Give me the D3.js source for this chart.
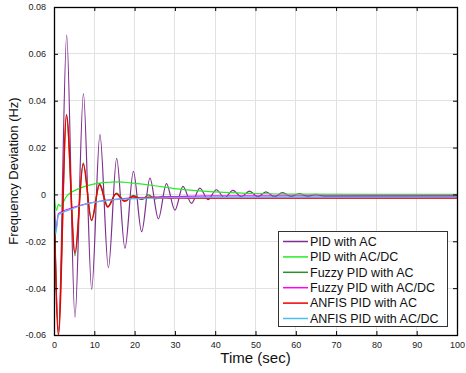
<!DOCTYPE html>
<html>
<head>
<meta charset="utf-8">
<script src="https://cdn.jsdelivr.net/npm/d3@7"></script>
<style>
  body { margin: 0; background: #fff; }
  svg { display: block; font-family: Arial, "Liberation Sans", sans-serif; }
</style>
</head>
<body>
<div id="chart"></div>
<script>
// series values [time (sec), deviation (Hz)]
const pidAC = [[0,0],[1.1,-0.058],[3.15,0.068],[5.2,-0.0524],[7.3,0.043],[9.35,-0.0405],[11.4,0.0255],
  [13.5,-0.0313],[15.55,0.0154],[17.6,-0.023],[19.7,0.0098],[21.75,-0.0159],[23.8,0.007],[25.9,-0.0104],
  [27.9,0.0046],[30.0,-0.0067],[32.0,0.0034],[34.1,-0.0038],[36.2,0.0027],[38.2,-0.0022],[40.3,0.002],
  [42.3,-0.0014],[44.4,0.0017],[46.5,-0.001],[48.5,0.0014],[50.6,-0.001],[52.6,0.0011],[54.7,-0.001],
  [56.7,0.0008],[58.8,-0.0009],[60.8,0.0004],[62.9,-0.0008],[64.9,0],[67,-0.0007],[100,-0.0006]];
const pidACDC = [[0,0],[0.6,-0.0068],[1.1,-0.0042],[1.6,-0.005],[3.1,-0.0008],[6.5,0.0027],[9.8,0.0044],
  [13.9,0.0052],[16,0.0054],[19,0.0049],[25,0.0037],[30.4,0.0024],[36,0.0015],[42,0.0009],[50,0.0004],
  [60,0.0001],[100,0]];
const fuzzyAC = [[0,0],[1.1,-0.0595],[3.1,0.0335],[5.2,-0.0262],[7.25,0.0135],[9.35,-0.0112],[11.3,0.0046],
  [13.4,-0.0052],[15.5,0.0006],[17.6,-0.0027],[19.7,-0.0004],[21.8,-0.0021],[23.4,-0.0002],[25.2,-0.0019],
  [26.8,-0.0008],[28.8,-0.0017],[30.6,-0.0011],[33,-0.0015],[100,-0.0015]];
const fuzzyACDC = [[0,0],[0.4,-0.0155],[1.1,-0.0082],[4,-0.006],[8,-0.004],[12,-0.0027],[16,-0.002],
  [20,-0.0015],[25,-0.0011],[30,-0.0009],[40,-0.0006],[100,-0.0006]];
const anfisAC = [[0,0],[1.1,-0.06],[3.1,0.034],[5.2,-0.025],[7.25,0.013],[9.3,-0.011],[11.3,0.0041],
  [13.3,-0.0054],[15.4,0.0003],[17.5,-0.0029],[19.6,-0.0009],[21.7,-0.0019],[23.8,-0.0012],[26,-0.0015],
  [100,-0.0015]];
const anfisACDC = [[0,0],[0.4,-0.017],[1.1,-0.0088],[4,-0.0065],[7.3,-0.0044],[11.4,-0.003],[14,-0.0024],
  [20,-0.0018],[30,-0.0014],[40,-0.0013],[100,-0.0012]];

const seriesNames = ['PID with AC', 'PID with AC/DC', 'Fuzzy PID with AC', 'Fuzzy PID with AC/DC',
  'ANFIS PID with AC', 'ANFIS PID with AC/DC'];
const seriesData = [pidAC, pidACDC, fuzzyAC, fuzzyACDC, anfisAC, anfisACDC];
const seriesColors = ['#7e2f8e', '#22ee22', '#2f8f2f', '#ff00ff', '#ee0000', '#4dbeee'];

const xTicks = [0, 10, 20, 30, 40, 50, 60, 70, 80, 90, 100];
const yTicks = [-0.06, -0.04, -0.02, 0, 0.02, 0.04, 0.06, 0.08];

const width = 466, height = 373;
const margin = { top: 7, right: 9, bottom: 38, left: 54 };

const svg = d3.select('#chart').append('svg')
  .attr('width', width)
  .attr('height', height);

const x = d3.scaleLinear().domain([0, 100]).range([margin.left, width - margin.right]);
const y = d3.scaleLinear().domain([-0.06, 0.08]).range([height - margin.bottom, margin.top]);

const fmtY = d => d === 0 ? '0' : d3.format('.2f')(d).replace('−', '-');

// grid
const grid = svg.append('g').attr('shape-rendering', 'crispEdges');
grid.selectAll('.gx').data(xTicks.slice(1, -1)).enter().append('line')
  .attr('x1', d => x(d)).attr('x2', d => x(d))
  .attr('y1', y.range()[1]).attr('y2', y.range()[0])
  .attr('stroke', '#e2e2e2');
grid.selectAll('.gy').data(yTicks.slice(1, -1)).enter().append('line')
  .attr('y1', d => y(d)).attr('y2', d => y(d))
  .attr('x1', x.range()[0]).attr('x2', x.range()[1])
  .attr('stroke', '#e2e2e2');

// lines
svg.append('clipPath').attr('id', 'clip').append('rect')
  .attr('x', x.range()[0]).attr('y', y.range()[1])
  .attr('width', x.range()[1] - x.range()[0]).attr('height', y.range()[0] - y.range()[1]);

const line = d3.line()
  .x(d => x(d[0]))
  .y(d => y(d[1]))
  .curve(d3.curveMonotoneX);

svg.append('g').attr('clip-path', 'url(#clip)')
  .selectAll('path')
  .data(seriesData)
  .enter()
  .append('path')
  .attr('fill', 'none')
  .attr('stroke', (d, i) => seriesColors[i])
  .attr('stroke-width', (d, i) => i === 4 ? 1.5 : 1.2)
  .attr('d', line);

// axes with inward ticks
const axisStyle = g => {
  g.select('.domain').remove();
  g.selectAll('line').attr('stroke', '#000');
  g.selectAll('text').attr('fill', '#222').attr('font-size', 9).attr('font-family', 'Arial, "Liberation Sans", sans-serif');
};

svg.append('g')
  .attr('transform', `translate(0,${y.range()[0]})`)
  .call(d3.axisBottom(x).tickValues(xTicks).tickSize(-4).tickPadding(7).tickFormat(d3.format('d')))
  .call(axisStyle);

svg.append('g')
  .attr('transform', `translate(${x.range()[0]},0)`)
  .call(d3.axisLeft(y).tickValues(yTicks).tickSize(-4).tickPadding(8).tickFormat(fmtY))
  .call(axisStyle);

svg.append('g')
  .attr('transform', `translate(0,${y.range()[1]})`)
  .call(d3.axisTop(x).tickValues(xTicks).tickSize(-4).tickFormat(''))
  .call(axisStyle);

svg.append('g')
  .attr('transform', `translate(${x.range()[1]},0)`)
  .call(d3.axisRight(y).tickValues(yTicks).tickSize(-4).tickFormat(''))
  .call(axisStyle);

// frame
svg.append('rect')
  .attr('x', x.range()[0] + 0.5).attr('y', y.range()[1] + 0.5)
  .attr('width', x.range()[1] - x.range()[0]).attr('height', y.range()[0] - y.range()[1])
  .attr('fill', 'none').attr('stroke', '#000').attr('stroke-width', 1.3);

// axis titles
svg.append('text')
  .attr('x', (x.range()[0] + x.range()[1]) / 2)
  .attr('y', 363)
  .attr('text-anchor', 'middle')
  .attr('font-size', 15)
  .attr('fill', '#111')
  .text('Time (sec)');

svg.append('text')
  .attr('transform', 'translate(17.5,171) rotate(-90)')
  .attr('text-anchor', 'middle')
  .attr('font-size', 13)
  .attr('fill', '#111')
  .text('Frequency Deviation (Hz)');

// legend
const legend = svg.append('g');
legend.append('rect')
  .attr('x', 278.5).attr('y', 231.5)
  .attr('width', 169).attr('height', 95)
  .attr('fill', '#fff').attr('stroke', '#333');

const rows = legend.selectAll('.row')
  .data(seriesNames)
  .enter()
  .append('g')
  .attr('transform', (d, i) => `translate(0,${241.5 + i * 15.4})`);

rows.append('line')
  .attr('x1', 283).attr('x2', 308)
  .attr('stroke', (d, i) => seriesColors[i])
  .attr('stroke-width', 1.5);

rows.append('text')
  .attr('x', 310)
  .attr('dy', '0.35em')
  .attr('font-size', 12.5)
  .attr('fill', '#111')
  .text(d => d);
</script>
</body>
</html>
